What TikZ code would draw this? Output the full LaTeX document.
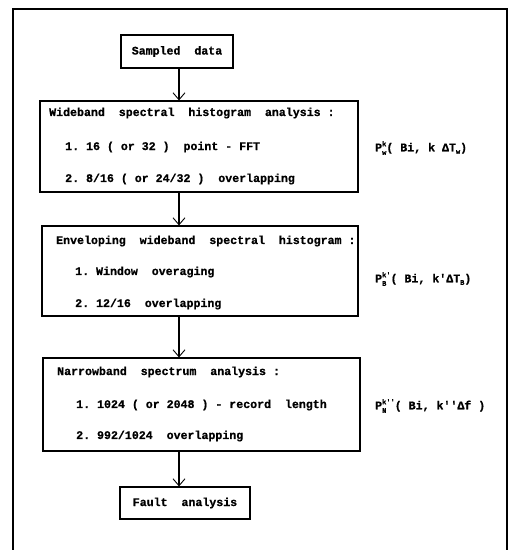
\documentclass[tikz,border=0pt]{standalone}
\usepackage{fontspec}
\setmonofont[BoldFeatures={FakeBold=0.8}]{Liberation Mono}
\usetikzlibrary{arrows.meta}
\tikzset{
  box/.style={draw,line width=1.1pt,rectangle,inner sep=0pt},
  flow/.style={line width=1.1pt,-{Straight Barb[length=7pt,width=12pt,line width=.9pt]}},
  txt/.style={anchor=west,inner sep=0pt,font=\ttfamily\bfseries\fontsize{11.6}{13}\selectfont},
}
\newcommand\smtt{\fontsize{7}{7}\selectfont}
\newlength\supwd
\newlength\subwd
\newcommand\pidx[2]{\settowidth\supwd{\smtt#1}\settowidth\subwd{\smtt#2}%
  \ifdim\supwd>\subwd\rlap{\raisebox{-3.5pt}{\smtt#2}}\raisebox{5pt}{\smtt#1}%
  \else\rlap{\raisebox{5pt}{\smtt#1}}\raisebox{-3.5pt}{\smtt#2}\fi}
\newcommand\lowidx[1]{\raisebox{-2.5pt}{\smtt#1}}
\begin{document}
\begin{tikzpicture}[x=1pt,y=-1pt]
	\useasboundingbox (0,0) rectangle (514,550);
	\draw[line width=1.1pt] (13,560)--(13,9)--(507,9)--(507,560);
	\node[box,minimum width=112pt,minimum height=33pt] (sampled) at (177,51.5) {};
	\node[box,minimum width=318pt,minimum height=91pt] (wide) at (199,146.5) {};
	\node[box,minimum width=316pt,minimum height=90pt] (env) at (200,271) {};
	\node[box,minimum width=317pt,minimum height=93pt] (narrow) at (201.5,404.5) {};
	\node[box,minimum width=130pt,minimum height=32pt] (fault) at (185,503) {};
	\coordinate (spine) at (179,0);
	\draw[flow] (sampled.south -| spine)--(wide.north -| spine);
	\draw[flow] (wide.south -| spine)--(env.north -| spine);
	\draw[flow] (env.south -| spine)--(narrow.north -| spine);
	\draw[flow] (narrow.south -| spine)--(fault.north -| spine);
	\node[txt,anchor=center] (sampledtxt) at (sampled) {Sampled\ \ data};
	\node[txt,anchor=center] (faulttxt) at (fault) {Fault\ \ analysis};
	\node[txt] (wide0) at (49,113) {Wideband\ \ spectral\ \ histogram\ \ analysis\ :};
	\node[txt] (wide1) at (65,147) {1. 16 ( or 32 )\ \ point - FFT};
	\node[txt] (wide2) at (65,179) {2. 8/16 ( or 24/32 )\ \ overlapping};
	\node[txt] (env0) at (56,241) {Enveloping\ \ wideband\ \ spectral\ \ histogram\ :};
	\node[txt] (env1) at (75,272) {1. Window\ \ overaging};
	\node[txt] (env2) at (75,304) {2. 12/16\ \ overlapping};
	\node[txt] (narrow0) at (57,372) {Narrowband\ \ spectrum\ \ analysis\ :};
	\node[txt] (narrow1) at (76,405) {1. 1024 ( or 2048 ) - record\ \ length};
	\node[txt] (narrow2) at (76,436) {2. 992/1024\ \ overlapping};
	\node[txt] (pw) at (375,148) {P\pidx{k}{w}( Bi, k ΔT\lowidx{w})};
	\node[txt] (pb) at (375,279) {P\pidx{k'}{B}( Bi, k'ΔT\lowidx{B})};
	\node[txt] (pn) at (375,406) {P\pidx{k''}{N}( Bi, k''Δf )};
\end{tikzpicture}
\end{document}
